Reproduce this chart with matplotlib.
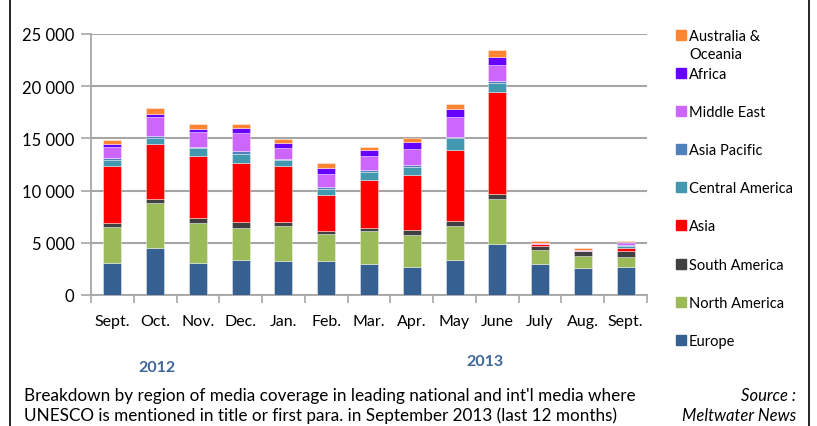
import matplotlib
matplotlib.use("Agg")
import matplotlib.pyplot as plt
import numpy as np
from matplotlib.ticker import FuncFormatter, FixedLocator
from matplotlib.patches import Rectangle
from matplotlib.lines import Line2D

plt.rcParams['font.family'] = ['Lato', 'DejaVu Sans']

months = ['Sept.', 'Oct.', 'Nov.', 'Dec.', 'Jan.', 'Feb.', 'Mar.', 'Apr.', 'May', 'June', 'July', 'Aug.', 'Sept.']
europe = [3100, 4520, 3100, 3370, 3300, 3210, 3010, 2720, 3390, 4900, 3000, 2570, 2690]
north_america = [3370, 4260, 3760, 3040, 3330, 2620, 3080, 3020, 3210, 4270, 1270, 1150, 990]
south_america = [450, 450, 510, 580, 360, 320, 320, 480, 450, 480, 470, 540, 510]
asia = [5420, 5220, 5960, 5610, 5350, 3400, 4580, 5320, 6830, 9800, 130, 0, 320]
central_america = [570, 550, 710, 860, 570, 640, 810, 700, 1120, 840, 30, 0, 160]
asia_pacific = [170, 190, 160, 320, 100, 160, 150, 190, 160, 220, 20, 0, 130]
middle_east = [1120, 1830, 1380, 1700, 1030, 1280, 1350, 1510, 1860, 1540, 50, 20, 160]
africa = [220, 320, 290, 510, 480, 580, 580, 710, 770, 740, 30, 20, 160]
australia = [390, 540, 480, 360, 410, 390, 320, 420, 510, 670, 160, 230, 90]

series_names = ['Europe', 'North America', 'South America', 'Asia', 'Central America',
                'Asia Pacific', 'Middle East', 'Africa', 'Australia &\nOceania']
series_values = [europe, north_america, south_america, asia, central_america,
                 asia_pacific, middle_east, africa, australia]
colors = ['#366092', '#9bbb59', '#404040', '#ff0000', '#4198af',
          '#4f81bd', '#cc66ff', '#6600ff', '#ff8533']

W, H = 817, 427
fig = plt.figure(figsize=(W / 100, H / 100), dpi=100)
ax = fig.add_axes([91 / W, (H - 296) / H, (647 - 91) / W, (296 - 35) / H])

x = np.arange(len(months))
bottom = np.zeros(len(months))
for vals, col in zip(series_values, colors):
    v = np.array(vals, dtype=float)
    ax.bar(x, v, bottom=bottom, width=0.42, color=col, edgecolor=(1, 1, 1, 0.45),
           linewidth=0.6, zorder=3)
    bottom += v

ax.set_xlim(-0.5, len(months) - 0.5)
ax.set_ylim(0, 25000)
ax.set_yticks(np.arange(0, 25001, 5000))
ax.yaxis.set_major_formatter(FuncFormatter(lambda v, p: f"{int(v):,}".replace(',', ' ')))
ax.grid(axis='y', color='#a6a6a6', linewidth=1.5, zorder=0)
ax.set_axisbelow(True)

ax.set_xticks(x)
ax.set_xticklabels(months)
ax.xaxis.set_minor_locator(FixedLocator(np.arange(-0.5, len(months), 1.0)))
ax.tick_params(axis='x', which='major', length=0, pad=14, labelsize=11.5, labelcolor='black')
ax.tick_params(axis='x', which='minor', length=6, width=1.2, color='#a6a6a6')
ax.tick_params(axis='y', which='major', length=7, width=1.2, color='#a6a6a6',
               labelsize=12, pad=5)

for s in ['top', 'right']:
    ax.spines[s].set_visible(False)
for s in ['left', 'bottom']:
    ax.spines[s].set_color('#a6a6a6')
    ax.spines[s].set_linewidth(1.3)

# Legend (manual, top to bottom)
leg_y = [36, 74, 112, 150, 188, 226, 265, 303, 341]
for name, col, yy in zip(series_names[::-1], colors[::-1], leg_y):
    fig.add_artist(Rectangle((676 / W, 1 - (yy + 5) / H), 10 / W, 10 / H,
                             transform=fig.transFigure, color=col))
    fig.text(689 / W, 1 - (yy - 6) / H, name, fontsize=10.5, va='top', ha='left',
             linespacing=1.35)

fig.text(157 / W, 1 - 368 / H, '2012', fontsize=11.5, fontweight='bold',
         color='#3f6699', ha='center', va='center')
fig.text(485 / W, 1 - 362 / H, '2013', fontsize=11.5, fontweight='bold',
         color='#3f6699', ha='center', va='center')

fig.text(24 / W, 1 - 396 / H, "Breakdown by region of media coverage in leading national and int'l media where",
         fontsize=12.3, ha='left', va='center')
fig.text(24 / W, 1 - 416 / H, "UNESCO is mentioned in title or first para. in September 2013 (last 12 months)",
         fontsize=12.3, ha='left', va='center')
fig.text(796 / W, 1 - 396 / H, "Source :", fontsize=12, style='italic', ha='right', va='center')
fig.text(796 / W, 1 - 416 / H, "Meltwater News", fontsize=12, style='italic', ha='right', va='center')

# frame borders
fig.add_artist(Line2D([10 / W, 10 / W], [0, 1], transform=fig.transFigure, color='black', linewidth=1.2))
fig.add_artist(Line2D([809 / W, 809 / W], [0, 1], transform=fig.transFigure, color='black', linewidth=1.2))

fig.savefig('out.png', dpi=100)
